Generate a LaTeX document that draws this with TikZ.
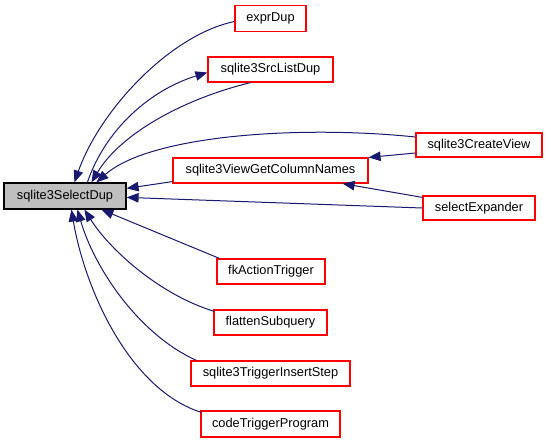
\documentclass[tikz,border=0pt]{standalone}
\usepackage{fontspec}
\setmainfont{Liberation Sans}
\usetikzlibrary{arrows.meta,calc}
\definecolor{edgec}{HTML}{191970}
\definecolor{nodeborder}{HTML}{FF0000}
\definecolor{selfill}{HTML}{BFBFBF}
\begin{document}
\begin{tikzpicture}[x=1pt,y=-1pt,
  fn/.style={draw=nodeborder, line width=1.2pt, fill=white, rectangle, inner sep=0pt,
             minimum height=25pt, font=\fontsize{12.8}{14}\selectfont},
  root/.style={fn, draw=black, fill=selfill},
  edge/.style={draw=edgec, line width=1pt, -{Triangle[length=12pt,width=9.5pt]}}]
\useasboundingbox (0,0) rectangle (548,443);
\fill[white] (0,0) rectangle (548,443);

\node[root, minimum width=122pt, minimum height=26pt] (sel) at (65,196) {sqlite3SelectDup};
\node[fn, minimum width=71pt, minimum height=26pt] (expr) at (270.5,18.5) {exprDup};
\node[fn, minimum width=125pt] (srclist) at (270.5,69.5) {sqlite3SrcListDup};
\node[fn, minimum width=126pt, minimum height=24pt] (create) at (479,145) {sqlite3CreateView};
\node[fn, minimum width=195pt] (viewget) at (270.5,170.5) {sqlite3ViewGetColumnNames};
\node[fn, minimum width=112pt, minimum height=24pt] (expander) at (479,208) {selectExpander};
\node[fn, minimum width=108pt] (fk) at (271,271.5) {fkActionTrigger};
\node[fn, minimum width=113pt] (flatten) at (270.5,322.5) {flattenSubquery};
\node[fn, minimum width=159pt] (insert) at (270.5,373.5) {sqlite3TriggerInsertStep};
\node[fn, minimum width=139pt, minimum height=26pt] (code) at (270.5,424) {codeTriggerProgram};

% edges into sqlite3SelectDup from above
\draw[edge] ($(expr.west)+(0,3)$) .. controls (170,35) and (100,110) .. ($(sel.north west)+(71,0)$);
\draw[edge] ($(sel.north west)+(84,0)$) .. controls (105,130) and (150,90) .. ($(srclist.west)+(0,3)$);
\draw[edge] ($(srclist.south)+(-20,0)$) .. controls (180,100) and (120,135) .. ($(sel.north west)+(88,0)$);
\draw[edge] ($(create.west)+(0,-8)$) .. controls (300,125) and (150,135) .. ($(sel.north west)+(93,0)$);

% right side
\draw[edge] ($(viewget.south west)+(0,-2)$) -- ($(sel.north east)+(0,6)$);
\draw[edge] (expander.west) -- ($(sel.north east)+(0,15)$);
\draw[edge] ($(create.west)+(0,8)$) -- (viewget.north east);
\draw[edge] ($(expander.north west)+(0,2)$) -- ($(viewget.south east)+(-26,0)$);

% edges into sqlite3SelectDup from below
\draw[edge] ($(fk.north west)+(3,0)$) -- ($(sel.south west)+(98,0)$);
\draw[edge] ($(flatten.north west)+(1,2)$) .. controls (160,295) and (110,250) .. ($(sel.south west)+(81,0)$);
\draw[edge] ($(insert.north west)+(6,0)$) .. controls (140,335) and (95,270) .. ($(sel.south west)+(74,0)$);
\draw[edge] ($(code.north west)+(1,2)$) .. controls (130,390) and (85,290) .. ($(sel.south west)+(68,0)$);
\end{tikzpicture}
\end{document}
